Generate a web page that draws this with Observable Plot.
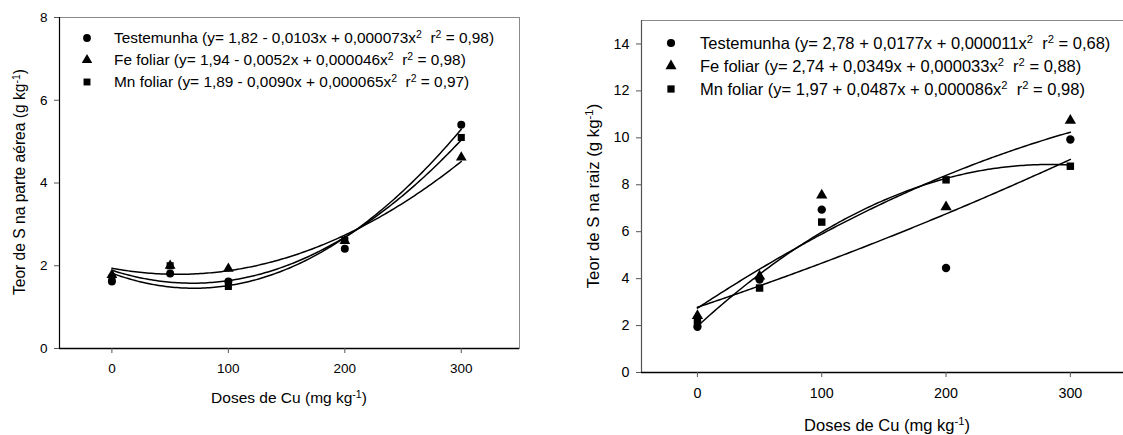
<!DOCTYPE html>
<html>
<head>
<meta charset="utf-8">
<script src="https://cdn.jsdelivr.net/npm/d3@7"></script>
<script src="https://cdn.jsdelivr.net/npm/@observablehq/plot@0.6"></script>
<style>
  html, body { margin: 0; padding: 0; background: #fff; overflow: hidden; }
  #wrap { position: relative; width: 1123px; height: 435px; overflow: hidden;
          font-family: "Liberation Sans", Arial, Helvetica, sans-serif; color: #000; }
  .panel { position: absolute; top: 0; }
  .txt { position: absolute; white-space: nowrap; line-height: 1; }
  .sym { position: absolute; overflow: visible; }
  sup { font-size: 0.68em; line-height: 0; position: relative; top: -0.5em; vertical-align: baseline; }
</style>
</head>
<body>
<div id="wrap"></div>
<script>
// ---------------- data ----------------
const doses = [0, 50, 100, 200, 300];
const series = ["Testemunha", "Fe foliar", "Mn foliar"];
const symbols = ["circle", "triangle", "square"];

// Teor de S na parte aérea (g kg-1)
const aereaTestemunha = [1.62, 1.81, 1.62, 2.41, 5.41];
const aereaFe         = [1.78, 2.00, 1.93, 2.60, 4.62];
const aereaMn         = [1.70, 2.00, 1.50, 2.61, 5.10];

// Teor de S na raiz (g kg-1)
const raizTestemunha = [1.95, 3.96, 6.94, 4.45, 9.93];
const raizFe         = [2.42, 4.10, 7.55, 7.05, 10.74];
const raizMn         = [2.20, 3.60, 6.41, 8.21, 8.79];

// fitted quadratic curves y = a + b x + c x^2 (coefficients as printed; raiz Fe/Mn curves drawn with negative c)
const aereaCoef = [[1.82, -0.0103, 0.000073], [1.94, -0.0052, 0.000046], [1.89, -0.0090, 0.000065]];
const raizCoef  = [[2.78, 0.0177, 0.000011], [2.74, 0.0349, -0.000033], [1.97, 0.0487, -0.000086]];
const fitRange = [0, 300];

const aereaLegend = [
  "Testemunha (y= 1,82 - 0,0103x + 0,000073x<sup>2</sup>&nbsp; r<sup>2</sup> = 0,98)",
  "Fe foliar (y= 1,94 - 0,0052x + 0,000046x<sup>2</sup>&nbsp; r<sup>2</sup> = 0,98)",
  "Mn foliar (y= 1,89 - 0,0090x + 0,000065x<sup>2</sup>&nbsp; r<sup>2</sup> = 0,97)"
];
const raizLegend = [
  "Testemunha (y= 2,78 + 0,0177x + 0,000011x<sup>2</sup>&nbsp; r<sup>2</sup> = 0,68)",
  "Fe foliar (y= 2,74 + 0,0349x + 0,000033x<sup>2</sup>&nbsp; r<sup>2</sup> = 0,88)",
  "Mn foliar (y= 1,97 + 0,0487x + 0,000086x<sup>2</sup>&nbsp; r<sup>2</sup> = 0,98)"
];

const xTitle = "Doses de Cu (mg kg<sup>-1</sup>)";
const aereaYTitle = "Teor de S na parte aérea (g kg<sup>-1</sup>)";
const raizYTitle = "Teor de S na raiz (g kg<sup>-1</sup>)";

const xDomain = [-45, 350];
const xTicks = [0, 100, 200, 300];
const aereaYDomain = [0, 8];
const aereaYTicks = [0, 2, 4, 6, 8];
const raizYDomain = [0, 15];
const raizYTicks = [0, 2, 4, 6, 8, 10, 12, 14];

// ---------------- helpers ----------------
function toPoints(arrs) {
  const out = [];
  arrs.forEach((vals, i) => vals.forEach((v, j) => out.push({series: series[i], dose: doses[j], value: v})));
  return out;
}
function toCurves(coefs) {
  const out = [];
  coefs.forEach(([a, b, c], i) => {
    for (let x = fitRange[0]; x <= fitRange[1]; x += 2) out.push({series: series[i], x, y: a + b * x + c * x * x});
  });
  return out;
}

const FONT = '"Liberation Sans", Arial, Helvetica, sans-serif';
const wrap = document.getElementById("wrap");

function addText(html, left, top, size, rotate) {
  const d = document.createElement("div");
  d.className = "txt";
  d.innerHTML = html;
  d.style.left = left + "px";
  d.style.top = top + "px";
  d.style.fontSize = size + "px";
  d.style.transform = "translate(-50%,-50%)" + (rotate ? " rotate(-90deg)" : "");
  wrap.appendChild(d);
}

function addLegend(items, symX, textX, rowYs, size, r) {
  items.forEach((html, i) => {
    const svg = d3.create("svg").attr("class", "sym")
      .attr("width", 20).attr("height", 20)
      .style("left", (symX - 10) + "px").style("top", (rowYs[i] - 10) + "px");
    const sym = [d3.symbolCircle, d3.symbolTriangle, d3.symbolSquare][i];
    svg.append("path").attr("transform", "translate(10,10)")
      .attr("d", d3.symbol(sym, r * r * Math.PI)()).attr("fill", "#000");
    wrap.appendChild(svg.node());
    const d = document.createElement("div");
    d.className = "txt";
    d.innerHTML = html;
    d.style.left = textX + "px";
    d.style.top = rowYs[i] + "px";
    d.style.fontSize = size + "px";
    d.style.transform = "translateY(-50%)";
    wrap.appendChild(d);
  });
}

function panel(o) {
  const chart = Plot.plot({
    width: o.width, height: o.height,
    marginLeft: o.ml, marginRight: o.mr, marginTop: o.mt, marginBottom: o.mb,
    style: {fontFamily: FONT, fontSize: o.tickFont + "px", color: "#000", background: "transparent", overflow: "visible"},
    x: {domain: xDomain},
    y: {domain: o.yDomain},
    symbol: {domain: series, range: symbols},
    marks: [
      Plot.frame({stroke: "#8a8a8a", strokeWidth: 1}),
      Plot.ruleX([xDomain[0]], {stroke: o.leftStroke, strokeWidth: 1.2}),
      Plot.ruleY([o.yDomain[0]], {stroke: "#000", strokeWidth: 1.4}),
      Plot.axisX({ticks: xTicks, tickSize: 5, tickPadding: 10, label: null, stroke: "#555"}),
      Plot.axisY({ticks: o.yTicks, tickSize: 5, tickPadding: 7, label: null, stroke: "#555"}),
      Plot.line(o.curves, {x: "x", y: "y", z: "series", stroke: "#000", strokeWidth: 1.5, curve: "linear"}),
      Plot.dot(o.points, {x: "dose", y: "value", symbol: "series", fill: "#000", stroke: "none", r: o.r})
    ]
  });
  chart.classList.add("panel");
  chart.style.left = o.left + "px";
  wrap.appendChild(chart);
}

// ---------------- left panel ----------------
panel({
  left: 0, width: 560, height: 435, ml: 59, mr: 41, mt: 17, mb: 87,
  yDomain: aereaYDomain, yTicks: aereaYTicks, tickFont: 13.5, r: 4, leftStroke: "#000",
  points: toPoints([aereaTestemunha, aereaFe, aereaMn]),
  curves: toCurves(aereaCoef)
});
addLegend(aereaLegend, 87, 114, [38, 60, 82], 15.4, 3.9);
addText(xTitle, 289, 398, 15.5, false);
addText(aereaYTitle, 20, 182, 15.6, true);

// ---------------- right panel ----------------
panel({
  left: 560, width: 600, height: 435, ml: 81, mr: 28, mt: 20, mb: 63,
  yDomain: raizYDomain, yTicks: raizYTicks, tickFont: 14.3, r: 4.2, leftStroke: "#555",
  points: toPoints([raizTestemunha, raizFe, raizMn]),
  curves: toCurves(raizCoef)
});
addLegend(raizLegend, 671, 700, [43, 66, 89], 16.5, 4.1);
addText(xTitle, 887, 425, 16.5, false);
addText(raizYTitle, 594, 196, 16.8, true);
</script>
</body>
</html>
